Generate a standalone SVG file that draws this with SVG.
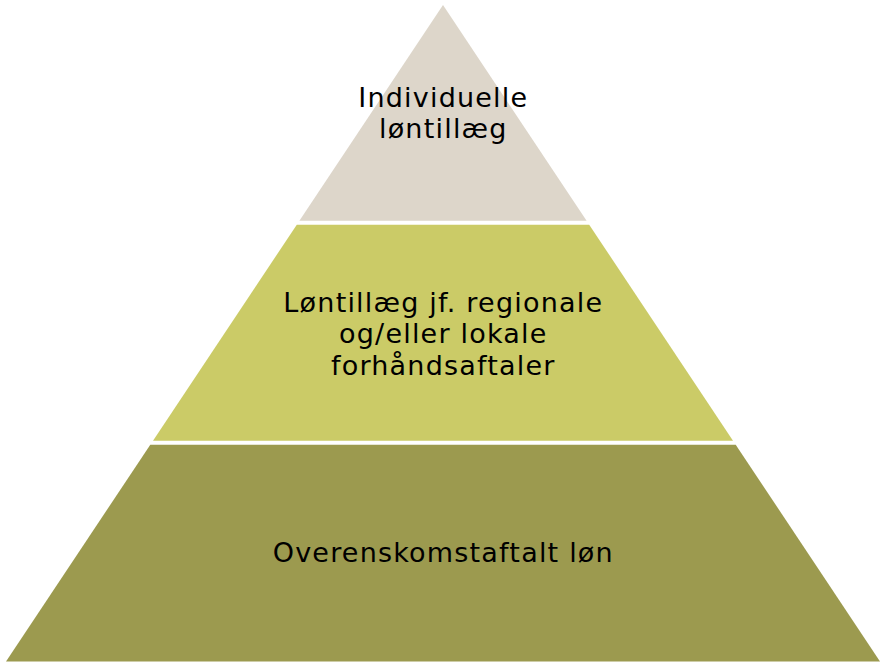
<svg xmlns="http://www.w3.org/2000/svg" width="886" height="666" viewBox="0 0 886 666">
<style>
.lbl{font-family:"DejaVu Sans","Verdana",sans-serif;font-size:27px;letter-spacing:1.2px;fill:#000;text-anchor:middle}
</style>
<rect width="886" height="666" fill="#ffffff"/>
<g id="top">
<polygon points="443,5 586.6,220.7 299.4,220.7" fill="#DDD6CA"/>
<text class="lbl" x="443.3" y="107">Individuelle</text>
<text class="lbl" x="443.3" y="138">løntillæg</text>
</g>
<g id="middle">
<polygon points="296.8,224.7 589.2,224.7 733,440.7 153,440.7" fill="#CBCB67"/>
<text class="lbl" x="443.3" y="311.5">Løntillæg jf. regionale</text>
<text class="lbl" x="443.3" y="343">og/eller lokale</text>
<text class="lbl" x="443.3" y="374.5">forhåndsaftaler</text>
</g>
<g id="bottom">
<polygon points="150.3,444.7 735.7,444.7 880,661.5 6,661.5" fill="#9C9A4F"/>
<text class="lbl" x="443.3" y="562">Overenskomstaftalt løn</text>
</g>
<g id="connectors"/>
</svg>
